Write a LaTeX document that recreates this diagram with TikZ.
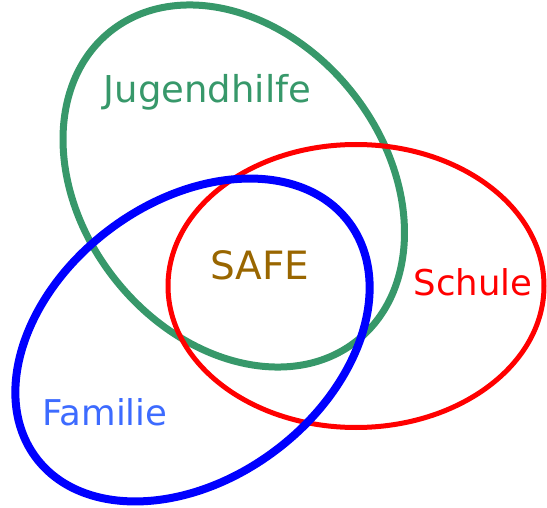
\documentclass[tikz,border=0pt]{standalone}
\usepackage{fontspec}
\setmainfont{DejaVu Sans}
\definecolor{jgreen}{RGB}{55,152,106}
\definecolor{sred}{RGB}{255,0,0}
\definecolor{fblue}{RGB}{0,0,255}
\definecolor{safebrown}{RGB}{153,102,0}
\definecolor{famblue}{RGB}{61,107,255}
\tikzset{
  lbl/.style={inner sep=0pt, anchor=base},
  big/.style={font=\fontsize{37}{44}\selectfont},
  mid/.style={font=\fontsize{35.5}{42}\selectfont}
}
\begin{document}
\begin{tikzpicture}[x=1pt,y=1pt]
\useasboundingbox (0,0) rectangle (547,507);
\draw[jgreen, line width=7pt] (233.75,321) ellipse [x radius=197.8, y radius=151, rotate=-51.4];
\draw[sred, line width=5pt] (356,221) ellipse [x radius=188, y radius=141.5];
\draw[fblue, line width=8pt] (192.5,167) ellipse [x radius=195.8, y radius=138.2, rotate=37];
\node[lbl, big, text=jgreen] (jug) at (207.5,404) {Jugendhilfe};
\node[lbl, font=\fontsize{39}{46}\selectfont, text=safebrown] (safe) at (260,227) {SAFE};
\node[lbl, mid, text=sred] (schule) at (473,211) {Schule};
\node[lbl, mid, text=famblue] (fam) at (105,82) {Familie};
\end{tikzpicture}
\end{document}
